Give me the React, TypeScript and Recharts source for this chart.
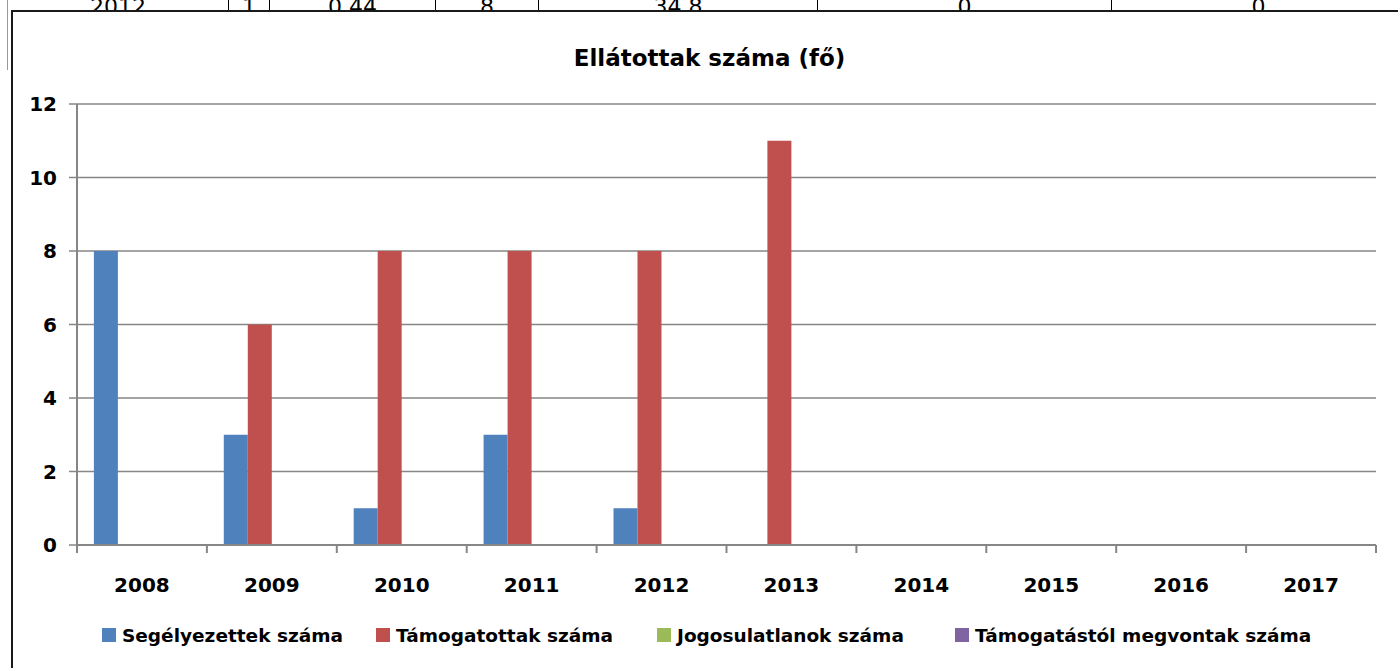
import React from 'react';
import { BarChart, Bar, XAxis, YAxis, CartesianGrid } from 'recharts';

const years = ['2008', '2009', '2010', '2011', '2012', '2013', '2014', '2015', '2016', '2017'];
const segelyezettek = [8, 3, 1, 3, 1, 0, 0, 0, 0, 0];
const tamogatottak = [0, 6, 8, 8, 8, 11, 0, 0, 0, 0];
const jogosulatlanok = [0, 0, 0, 0, 0, 0, 0, 0, 0, 0];
const megvontak = [0, 0, 0, 0, 0, 0, 0, 0, 0, 0];
const yTicks = [0, 2, 4, 6, 8, 10, 12];

// fragment of the table row that sits above the chart
const tableRow = ['2012', '1', '0,44', '8', '34,8', '0', '0'];
const tableEdges = [8, 228, 269, 435, 538, 817, 1111, 1405];

const seriesNames = [
  'Segélyezettek száma',
  'Támogatottak száma',
  'Jogosulatlanok száma',
  'Támogatástól megvontak száma'
];
const seriesColors = ['#4F81BD', '#C0504D', '#9BBB59', '#8064A2'];
const legendLeft = [102, 376, 657, 955];

const data = years.map((year, i) => ({
  year,
  s0: segelyezettek[i],
  s1: tamogatottak[i],
  s2: jogosulatlanok[i],
  s3: megvontak[i]
}));

const FONT = '"DejaVu Sans", sans-serif';
const AXIS = '#868686';
const TICK_MARGIN = 25;

const XTick = (props: any) => {
  const { x, y, payload, index, visibleTicksCount, width } = props;
  const half = payload?.offset || width / visibleTicksCount / 2;
  const top = y - TICK_MARGIN - 8;
  return (
    <g>
      <line x1={x - half} x2={x - half} y1={top} y2={top + 8} stroke={AXIS} strokeWidth={2} />
      {index === visibleTicksCount - 1 && (
        <line x1={x + half} x2={x + half} y1={top} y2={top + 8} stroke={AXIS} strokeWidth={2} />
      )}
      <text
        x={x}
        y={y}
        dy="0.71em"
        textAnchor="middle"
        fontFamily={FONT}
        fontWeight="bold"
        fontSize={20}
        fill="#000"
      >
        {payload.value}
      </text>
    </g>
  );
};

export default function App() {
  return (
    <div
      style={{
        position: 'absolute',
        left: 0,
        top: 0,
        width: 1398,
        height: 668,
        overflow: 'hidden',
        background: '#fff',
        fontFamily: FONT
      }}
    >
      {tableRow.map((t, i) => (
        <div
          key={i}
          style={{
            position: 'absolute',
            left: tableEdges[i],
            width: tableEdges[i + 1] - tableEdges[i],
            top: -6,
            textAlign: 'center',
            fontSize: 22,
            lineHeight: '26px',
            borderLeft: i > 0 ? '1px solid #000' : 'none',
            height: 20,
            boxSizing: 'border-box'
          }}
        >
          {t}
        </div>
      ))}
      <div style={{ position: 'absolute', left: 7, top: 0, width: 1, height: 70, background: '#999' }} />
      <div
        style={{
          position: 'absolute',
          left: 11,
          top: 10,
          width: 1400,
          height: 700,
          borderLeft: '2px solid #1a1a1a',
          borderTop: '2px solid #1a1a1a',
          background: '#fff'
        }}
      />
      <div
        style={{
          position: 'absolute',
          left: 0,
          width: 1419,
          top: 43,
          textAlign: 'center',
          fontSize: 23,
          fontWeight: 'bold',
          lineHeight: '30px'
        }}
      >
        Ellátottak száma (fő)
      </div>
      <div style={{ position: 'absolute', left: 0, top: 0 }}>
        <BarChart
          width={1398}
          height={668}
          data={data}
          margin={{ top: 104, right: 22, bottom: 63, left: 0 }}
          barCategoryGap="13%"
          barGap={0}
        >
          <CartesianGrid vertical={false} stroke={AXIS} strokeWidth={1.5} />
          <XAxis
            dataKey="year"
            height={60}
            axisLine={{ stroke: AXIS, strokeWidth: 2 }}
            tickLine={false}
            tickSize={8}
            tickMargin={TICK_MARGIN}
            interval={0}
            tick={<XTick />}
          />
          <YAxis
            width={77}
            domain={[0, 12]}
            ticks={yTicks}
            interval={0}
            axisLine={{ stroke: AXIS, strokeWidth: 2 }}
            tickLine={{ stroke: AXIS, strokeWidth: 1.5 }}
            tickSize={8}
            tickMargin={12}
            tick={{ fontFamily: FONT, fontWeight: 'bold', fontSize: 20, fill: '#000' }}
          />
          {seriesNames.map((name, i) => (
            <Bar
              key={name}
              dataKey={`s${i}`}
              name={name}
              fill={seriesColors[i]}
              isAnimationActive={false}
            />
          ))}
        </BarChart>
      </div>
      {seriesNames.map((name, i) => (
        <div
          key={name}
          style={{
            position: 'absolute',
            left: legendLeft[i],
            top: 624,
            height: 22,
            display: 'flex',
            alignItems: 'center',
            whiteSpace: 'nowrap',
            fontSize: 18.5,
            fontWeight: 'bold'
          }}
        >
          <span
            style={{
              display: 'inline-block',
              width: 14,
              height: 14,
              background: seriesColors[i],
              marginRight: 6
            }}
          />
          {name}
        </div>
      ))}
    </div>
  );
}
